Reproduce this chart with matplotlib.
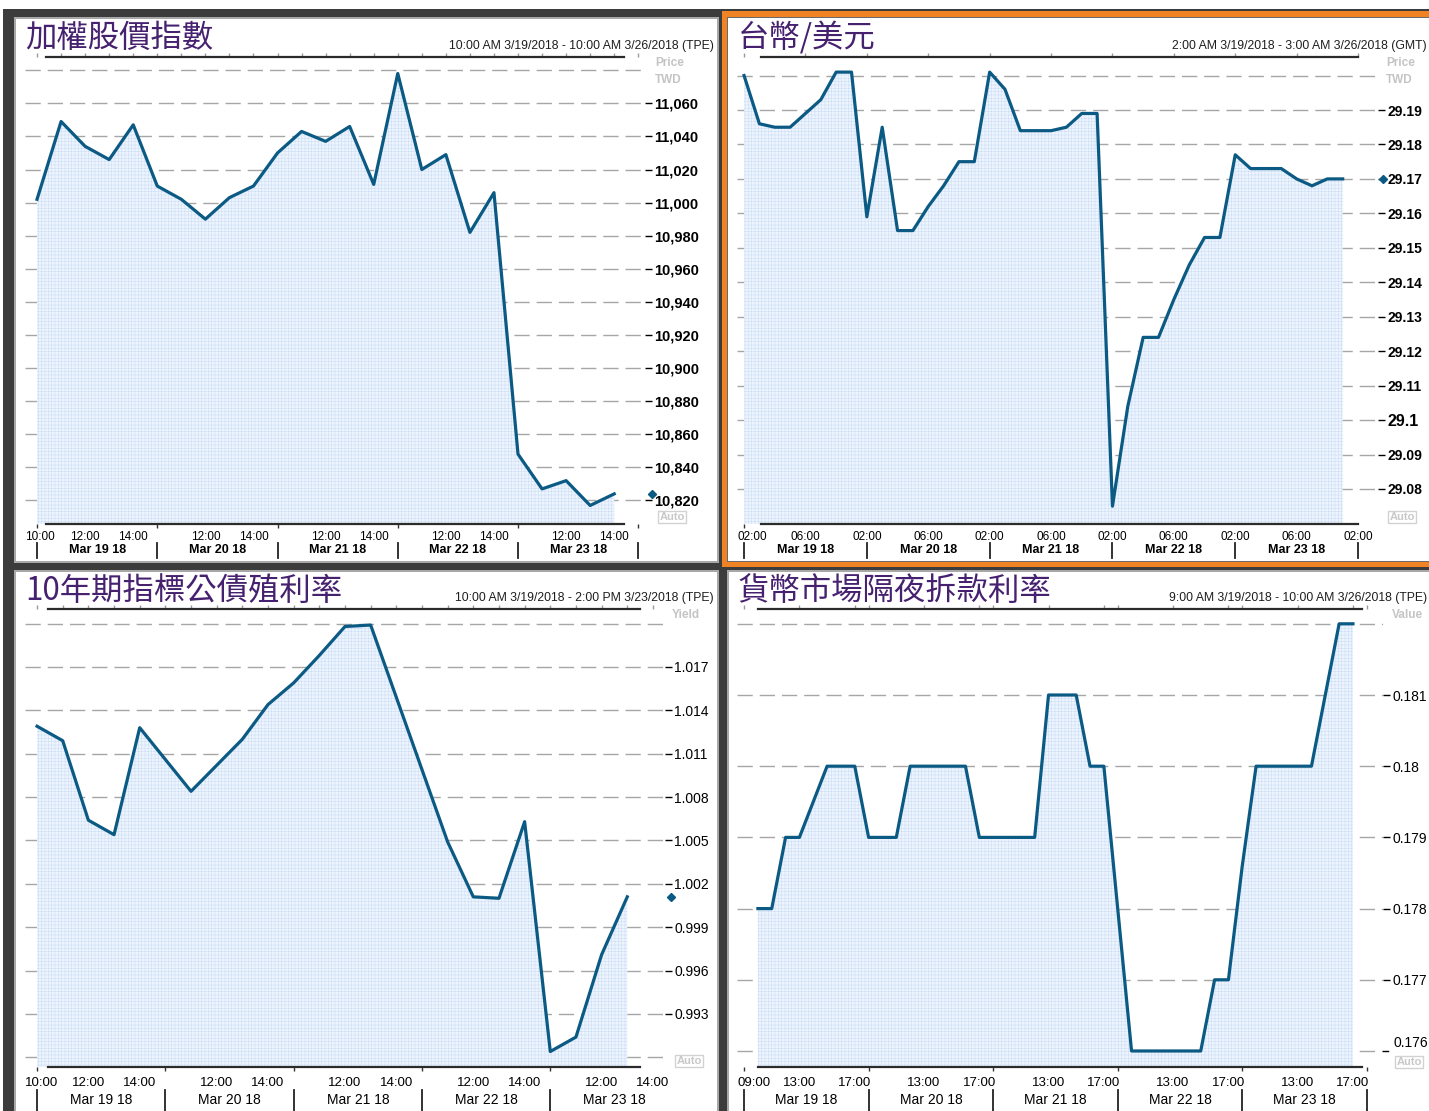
import numpy as np
import matplotlib
matplotlib.use('Agg')
import matplotlib.pyplot as plt
from matplotlib.patches import Rectangle

# ---- data ----
days = ['Mar 19 18', 'Mar 20 18', 'Mar 21 18', 'Mar 22 18', 'Mar 23 18']

# 加權股價指數, hourly 10:00-14:00 (TPE)
taiex_values = [11002, 11049, 11034, 11026, 11047,
                11010, 11002, 10990, 11003, 11010,
                11030, 11043, 11037, 11046, 11011,
                11078, 11020, 11029, 10982, 11006,
                10848, 10827, 10832, 10817, 10824]
taiex_grid = [10820, 10840, 10860, 10880, 10900, 10920, 10940, 10960,
              10980, 11000, 11020, 11040, 11060, 11080]
taiex_ticks = [10820, 10840, 10860, 10880, 10900, 10920, 10940, 10960,
               10980, 11000, 11020, 11040, 11060]

# 台幣/美元, hourly 02:00-09:00 (GMT)
twd_values = [29.200, 29.186, 29.185, 29.185, 29.189, 29.193, 29.201, 29.201,
              29.159, 29.185, 29.155, 29.155, 29.162, 29.168, 29.175, 29.175,
              29.201, 29.196, 29.184, 29.184, 29.184, 29.185, 29.189, 29.189,
              29.075, 29.104, 29.124, 29.124, 29.135, 29.145, 29.153, 29.153,
              29.177, 29.173, 29.173, 29.173, 29.170, 29.168, 29.170, 29.170]
twd_grid = [29.08, 29.09, 29.10, 29.11, 29.12, 29.13, 29.14, 29.15,
            29.16, 29.17, 29.18, 29.19, 29.20]
twd_ticks = [29.08, 29.09, 29.10, 29.11, 29.12, 29.13, 29.14, 29.15,
             29.16, 29.17, 29.18, 29.19]

# 10年期指標公債殖利率, hourly 10:00-14:00 (TPE)
bond_values = [1.0129, 1.0119, 1.0064, 1.0054, 1.0128,
               1.0106, 1.0084, 1.0102, 1.0120, 1.0144,
               1.0159, 1.0178, 1.0198, 1.0199, 1.0149,
               1.0099, 1.0049, 1.0011, 1.0010, 1.0063,
               0.9904, 0.9914, 0.9971, 1.0011]
bond_grid = [0.990, 0.993, 0.996, 0.999, 1.002, 1.005, 1.008, 1.011,
             1.014, 1.017, 1.020]
bond_ticks = [0.993, 0.996, 0.999, 1.002, 1.005, 1.008, 1.011, 1.014, 1.017]

# 貨幣市場隔夜拆款利率, hourly 09:00-17:00 (TPE), first point at 10:00
rate_values = [0.178, 0.178, 0.179, 0.179, 0.1795, 0.180, 0.180, 0.180,
               0.179, 0.179, 0.179, 0.180, 0.180, 0.180, 0.180, 0.180, 0.179,
               0.179, 0.179, 0.179, 0.179, 0.181, 0.181, 0.181, 0.180, 0.180,
               0.178, 0.176, 0.176, 0.176, 0.176, 0.176, 0.176, 0.177, 0.177,
               0.1786, 0.180, 0.180, 0.180, 0.180, 0.180, 0.181, 0.182, 0.182]
rate_grid = [0.176, 0.177, 0.178, 0.179, 0.180, 0.181, 0.182]
rate_ticks = [0.177, 0.178, 0.179, 0.180, 0.181]

# ---- figure ----
W, H = 1429, 1111
fig = plt.figure(figsize=(W / 100, H / 100), dpi=100)
fig.patch.set_facecolor('white')
plt.rcParams['hatch.linewidth'] = 0.35

SANS = 'Liberation Sans'
CJK = ['Noto Sans CJK TC', 'DejaVu Sans']

LINE = '#0b5a84'
FILL = '#edf4fd'
HATCH = '#c9ddf5'
TITLE = '#46216f'
GRAY = '#c4c4c4'


def box(x0, y0, x1, y1, color):
    fig.add_artist(Rectangle((x0 / W, 1 - y1 / H), (x1 - x0) / W, (y1 - y0) / H,
                             transform=fig.transFigure, facecolor=color,
                             edgecolor='none', zorder=-10))


def ftext(x, y, s, **kw):
    return fig.text(x / W, 1 - y / H, s, **kw)


# frames
box(3, 9, W, H, '#3c3c3c')
box(14, 17, 719, 563, '#a8a8a8')
box(16, 19, 717, 561, 'white')
box(722, 11, W, 567, '#f08424')
box(727, 17, W, 562, '#6a6a6a')
box(728, 18, W, 561, 'white')
box(14, 570, 719, H, '#a8a8a8')
box(16, 572, 717, H, 'white')
box(727, 570, W, H, '#a8a8a8')
box(729, 572, W, H, 'white')


def panel(rect, xlim, ylim, x, y, grid, ticks, fmt, bold, tick_size,
          hour_pos, hour_lab, first_lab, seps, minor, line_span, marks,
          title, title_xy, subtitle, sub_xy, big=None, diamond=None, small=8.5,
          day_bold=True, day_off=26, sep_off=(19, 34), lab_pad=5.2):
    x0, y0, x1, y1 = rect
    hpx = y1 - y0
    ax = fig.add_axes([x0 / W, 1 - y1 / H, (x1 - x0) / W, hpx / H])
    ax.patch.set_visible(False)
    for s in ax.spines.values():
        s.set_visible(False)

    for g in grid:
        ax.axhline(g, color='#a6a6a6', lw=1.0, ls=(0, (11, 5)), zorder=1)
    ax.fill_between(x, y, ylim[0], facecolor=FILL, edgecolor=HATCH, hatch='+++++',
                    lw=0, zorder=2)
    ax.plot(x, y, color=LINE, lw=2.3, zorder=3)

    xt = ax.get_xaxis_transform()
    for yy in (0, 1):
        ax.plot(line_span, [yy, yy], transform=xt, color='#2b2b2b', lw=1.6,
                clip_on=False, zorder=4)
    ax.vlines(marks, 1, 1 + 4 / hpx, transform=xt, colors='#9a9a9a', lw=1,
              clip_on=False)

    # right value axis
    ax.yaxis.tick_right()
    ax.set_yticks(ticks)
    labels = [fmt(t) for t in ticks]
    ax.set_yticklabels(labels, fontsize=tick_size, family=SANS,
                       fontweight='bold' if bold else 'normal')
    ax.tick_params(axis='y', length=5, width=1, pad=1.5, colors='black')
    if big is not None:
        for t, lbl in zip(ticks, ax.get_yticklabels()):
            if abs(t - big) < 1e-9:
                lbl.set_fontsize(tick_size + 1.5)

    # time axis
    ax.set_xticks(hour_pos)
    ax.set_xticklabels(hour_lab, fontsize=small, family=SANS)
    ax.set_xticks(minor, minor=True)
    ax.tick_params(axis='x', which='major', length=0, pad=lab_pad)
    ax.tick_params(axis='x', which='minor', length=3, width=1, color='#333333')
    # first time label sits flush with the left edge of the plot
    ax.text(0, -(lab_pad * 100 / 72) / hpx, first_lab, transform=ax.transAxes,
            ha='left', va='top', fontsize=small, family=SANS)

    span = seps[1] - seps[0]
    for d, lab in enumerate(days):
        c = seps[0] + span * d + span / 2
        ax.text(c, -day_off / hpx, lab, transform=xt, ha='center', va='center',
                fontsize=small + 0.5, family=SANS,
                fontweight='bold' if day_bold else 'normal')
    for s in seps:
        ax.plot([s, s], [-sep_off[0] / hpx, -sep_off[1] / hpx], transform=xt,
                color='#222222', lw=1.3, clip_on=False)

    if diamond is not None:
        ax.plot([1 + diamond / (x1 - x0)], [y[-1]], marker='D', ms=4.5,
                color=LINE, transform=ax.get_yaxis_transform(), clip_on=False,
                zorder=5)

    # limits last, so no tick or artist can widen them
    ax.set_xlim(*xlim)
    ax.set_ylim(*ylim)

    ftext(*title_xy, title, fontsize=22.6, color=TITLE, family=CJK,
          ha='left', va='center')
    ftext(*sub_xy, subtitle, fontsize=8.8, family=SANS, color='#1e1e1e',
          ha='right', va='center')
    return ax


def hour_ticks(start, span, hours, extra=()):
    pos, lab = [], []
    for d in range(len(days)):
        for h in hours:
            pos.append(d * span + h - start)
            lab.append(f'{h:02d}:00')
    for p, l in extra:
        pos.append(p)
        lab.append(l)
    return pos, lab


def auto(x, y):
    ftext(x, y, 'Auto', fontsize=8, color='#c8c8c8', fontweight='bold',
          family=SANS, ha='center', va='center',
          bbox=dict(boxstyle='square,pad=0.12', fc='white', ec='#d2d2d2', lw=1))


# panel 1 : 加權股價指數
p, l = hour_ticks(10, 5, [12, 14])
sep = [0, 5, 10, 15, 20, 25]
panel((25, 57, 645, 524), (-0.5, 25.28), (10805.8, 11087.98),
      np.arange(len(taiex_values)), taiex_values, taiex_grid, taiex_ticks,
      lambda v: f'{v:,.0f}', True, 10.5, p, l, '10:00', sep, sep,
      [0.37, 24.4], np.arange(0, 26), '加權股價指數', (25, 38),
      '10:00 AM 3/19/2018 - 10:00 AM 3/26/2018 (TPE)', (714, 46),
      diamond=7)
ftext(655, 63, 'Price', fontsize=8.5, color=GRAY, fontweight='bold', family=SANS, va='center')
ftext(655, 80, 'TWD', fontsize=8.5, color=GRAY, fontweight='bold', family=SANS, va='center')
auto(672, 517)

# panel 2 : 台幣/美元
p, l = hour_ticks(2, 8, [2, 6], [(40, '02:00')])
p, l = p[1:], l[1:]
sep = [0, 8, 16, 24, 32, 40]
panel((737, 57, 1378, 524), (-0.46, 41.3), (29.069826, 29.205385),
      np.arange(len(twd_values)), twd_values, twd_grid, twd_ticks,
      lambda v: f'{v:g}', True, 10, p, l, '02:00', sep, sep,
      [1.1, 40.0], np.arange(0, 41, 4), '台幣/美元', (738, 38),
      '2:00 AM 3/19/2018 - 3:00 AM 3/26/2018 (GMT)', (1427, 46),
      big=29.10, diamond=5)
ftext(1386, 63, 'Price', fontsize=8.5, color=GRAY, fontweight='bold', family=SANS, va='center')
ftext(1386, 80, 'TWD', fontsize=8.5, color=GRAY, fontweight='bold', family=SANS, va='center')
auto(1402, 517)

# panel 3 : 10年期指標公債殖利率
p, l = hour_ticks(10, 5, [12, 14])
sep = [0, 5, 10, 15, 20]
panel((25, 609, 665, 1067), (-0.47, 24.47), (0.98933, 1.02101),
      np.arange(len(bond_values)), bond_values, bond_grid, bond_ticks,
      lambda v: f'{v:.3f}', False, 10, p, l, '10:00', sep, sep + [24],
      [0.43, 23.5], np.arange(0, 25), '10年期指標公債殖利率', (25, 591),
      '10:00 AM 3/19/2018 - 2:00 PM 3/23/2018 (TPE)', (714, 598),
      diamond=6, small=9.5, day_bold=False, day_off=33,
      sep_off=(23, 44), lab_pad=7.2)
ftext(672, 615, 'Yield', fontsize=8.5, color=GRAY, fontweight='bold', family=SANS, va='center')
auto(689, 1061)

# panel 4 : 貨幣市場隔夜拆款利率
p, l = hour_ticks(9, 9, [13, 17])
sep = [0, 9, 18, 27, 36, 45]
ax4 = panel((737, 609, 1383, 1067), (-0.51, 46.17), (0.175775, 0.182208),
            np.arange(1, len(rate_values) + 1), rate_values, rate_grid, rate_ticks,
            lambda v: f'{v:g}', False, 10, p, l, '09:00', sep, sep,
            [1.0, 44.65], [0, 4, 8, 9, 13, 17, 18, 22, 26, 27, 31, 35, 36, 40, 44, 45],
            '貨幣市場隔夜拆款利率', (738, 591),
            '9:00 AM 3/19/2018 - 10:00 AM 3/26/2018 (TPE)', (1427, 598),
            small=9.5, day_bold=False, day_off=33, sep_off=(23, 44), lab_pad=7.2)
ax4.plot([1, 1 + 5 / 646], [rate_grid[0]] * 2, color='black', lw=1,
         transform=ax4.get_yaxis_transform(), clip_on=False)
ftext(1393, 1043, f'{rate_grid[0]:g}', fontsize=10, family=SANS, va='center')
ftext(1392, 615, 'Value', fontsize=8.5, color=GRAY, fontweight='bold', family=SANS, va='center')
auto(1409, 1062)

fig.savefig('out.png', dpi=100)
